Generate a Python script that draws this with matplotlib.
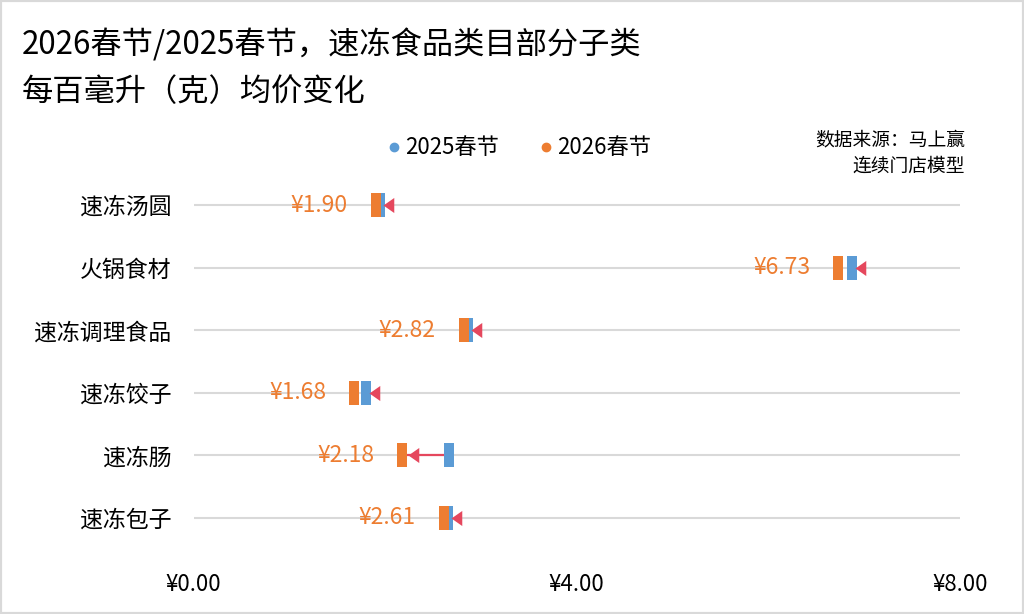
import matplotlib
matplotlib.use("Agg")
import matplotlib.pyplot as plt
from matplotlib.lines import Line2D
from matplotlib.patches import Rectangle
from matplotlib.transforms import offset_copy

plt.rcParams['font.family'] = ['Noto Sans CJK SC', 'DejaVu Sans']

# ---- data ----
categories = ["速冻汤圆", "火锅食材", "速冻调理食品", "速冻饺子", "速冻肠", "速冻包子"]
price_2025 = [1.95, 6.88, 2.87, 1.80, 2.67, 2.66]
price_2026 = [1.90, 6.73, 2.82, 1.68, 2.18, 2.61]
xticks = [0, 4, 8]
xtick_labels = ["¥0.00", "¥4.00", "¥8.00"]
series_names = ["2025春节", "2026春节"]
title_lines = ["2026春节/2025春节，速冻食品类目部分子类", "每百毫升（克）均价变化"]
source_lines = ["数据来源：马上赢", "连续门店模型"]

BLUE = '#5B9BD5'
ORANGE = '#ED7D31'
RED = '#E5475D'

W, H = 1024, 614
fig = plt.figure(figsize=(W / 100, H / 100), dpi=100)
fig.patch.set_facecolor('white')
fig.patches.append(Rectangle((0, 0), 1, 1, transform=fig.transFigure, fill=False,
                             edgecolor='#D9D9D9', linewidth=3, zorder=0))

left, right = 193.6 / W, 959.7 / W
top_px, bot_px = 173.7, 549.3
ax = fig.add_axes([left, 1 - bot_px / H, right - left, (bot_px - top_px) / H])
ax.set_xlim(0, 8)
n = len(categories)
ax.set_ylim(-0.5, n - 0.5)
ys = [n - 1 - i for i in range(n)]

for s in ax.spines.values():
    s.set_visible(False)
ax.set_yticks(ys)
ax.set_yticklabels(categories, fontsize=16.5)
ax.tick_params(axis='y', length=0, pad=16)
ax.set_xticks(xticks)
ax.set_xticklabels(xtick_labels, fontsize=16)
ax.tick_params(axis='x', length=0, pad=17)

for y in ys:
    ax.axhline(y, color='#D9D9D9', lw=1.5, zorder=1)

rect = [(-0.19, -0.5), (0.19, -0.5), (0.19, 0.5), (-0.19, 0.5), (-0.19, -0.5)]
tri = [(0, 0), (1, 0.7), (1, -0.7), (0, 0)]

for y, b, o in zip(ys, price_2025, price_2026):
    ax.plot([b], [y], marker=rect, markersize=17.3, color=BLUE, markeredgewidth=0,
            linestyle='none', zorder=3)
    ax.plot([o], [y], marker=rect, markersize=17.3, color=ORANGE, markeredgewidth=0,
            linestyle='none', zorder=4)
    if b - o > 0.25:
        tip_x, dx = o, 5.5
        ax.plot([b, o], [y, y], color=RED, lw=1.6, zorder=2)
    else:
        tip_x, dx = b, 3.0
    tr = offset_copy(ax.transData, fig=fig, x=dx, y=0, units='dots')
    ax.plot([tip_x], [y], marker=tri, markersize=15.5, color=RED, markeredgewidth=0,
            linestyle='none', zorder=5, transform=tr)
    ax.annotate(f"¥{o:.2f}", xy=(o, y), xytext=(-20, 0), textcoords='offset points',
                ha='right', va='center', color=ORANGE, fontsize=16.5)

# title
fig.text(22 / W, 1 - 45 / H, title_lines[0], fontsize=22.5, va='center', ha='left')
fig.text(22 / W, 1 - 92 / H, title_lines[1], fontsize=22.5, va='center', ha='left')

# source
fig.text(965 / W, 1 - 140 / H, source_lines[0], fontsize=13.5, va='center', ha='right')
fig.text(965 / W, 1 - 166 / H, source_lines[1], fontsize=13.5, va='center', ha='right')

# legend
handles = [Line2D([], [], marker='o', color=c, linestyle='none', markersize=6)
           for c in (BLUE, ORANGE)]
fig.legend(handles, series_names, loc='center', bbox_to_anchor=(519 / W, 1 - 148 / H),
           ncol=2, frameon=False, fontsize=16, handlelength=0.6, handletextpad=0.2,
           columnspacing=1.8)

fig.savefig('out.png', dpi=100, facecolor='white')
